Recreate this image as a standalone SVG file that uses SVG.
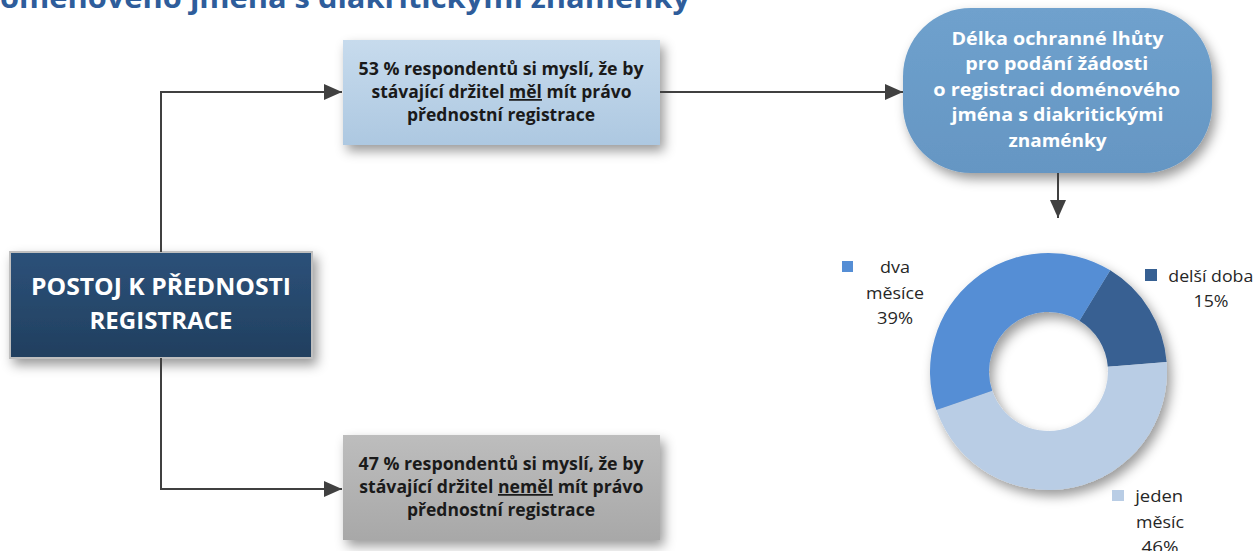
<svg xmlns="http://www.w3.org/2000/svg" width="1256" height="551" viewBox="0 0 1256 551">
<style>
.ttl{font-family:"Open Sans","Liberation Sans",sans-serif;font-weight:700;font-size:28px;fill:#2E5D9B}
.bt{font-family:"Open Sans","Liberation Sans",sans-serif;font-weight:700;font-size:17.5px;fill:#1A1A1A;text-anchor:middle}
.wt{font-family:"Open Sans","Liberation Sans",sans-serif;font-weight:700;fill:#FFFFFF;text-anchor:middle}
.lg{font-family:"Open Sans","Liberation Sans",sans-serif;font-size:17px;fill:#262626;text-anchor:middle}
.ul{text-decoration:underline}
.con{fill:none;stroke:#404040;stroke-width:2}
</style>
<defs>
<filter id="sh" x="-20%" y="-30%" width="150%" height="170%">
<feDropShadow dx="4" dy="6" stdDeviation="6" flood-color="#000" flood-opacity="0.4"/>
</filter>
<linearGradient id="gNavy" x1="0" y1="0" x2="0" y2="1"><stop offset="0" stop-color="#2C5179"/><stop offset="1" stop-color="#213F5F"/></linearGradient>
<linearGradient id="gLight" x1="0" y1="0" x2="0" y2="1"><stop offset="0" stop-color="#C7DBED"/><stop offset="1" stop-color="#ADC8E1"/></linearGradient>
<linearGradient id="gGray" x1="0" y1="0" x2="0" y2="1"><stop offset="0" stop-color="#BDBDBD"/><stop offset="1" stop-color="#A8A8A8"/></linearGradient>
<linearGradient id="gOval" x1="0" y1="0" x2="0" y2="1"><stop offset="0" stop-color="#6FA1CD"/><stop offset="1" stop-color="#6596C3"/></linearGradient>
<marker id="ah" markerUnits="userSpaceOnUse" markerWidth="18" markerHeight="16" refX="18" refY="8" orient="auto">
<path d="M0,0 L18,8 L0,16 Z" fill="#404040"/>
</marker>
</defs>
<rect width="1256" height="551" fill="#FFFFFF"/>

<text class="ttl" x="0" y="8" textLength="690" lengthAdjust="spacingAndGlyphs">oménového jména s diakritickými znaménky</text>

<g id="node-postoj">
<rect x="10" y="252" width="302" height="106" fill="url(#gNavy)" stroke="#BFBFBF" stroke-width="2" filter="url(#sh)"/>
<text class="wt" x="161" y="295" font-size="23" textLength="260" lengthAdjust="spacingAndGlyphs">POSTOJ K PŘEDNOSTI</text>
<text class="wt" x="161" y="329" font-size="23" textLength="143" lengthAdjust="spacingAndGlyphs">REGISTRACE</text>
</g>

<g id="node-mel">
<rect x="343" y="40" width="317" height="105" fill="url(#gLight)" filter="url(#sh)"/>
<text class="bt" x="501" y="75" textLength="285" lengthAdjust="spacingAndGlyphs">53 % respondentů si myslí, že by</text>
<text class="bt" x="501.5" y="98" textLength="260" lengthAdjust="spacingAndGlyphs">stávající držitel <tspan class="ul">měl</tspan> mít právo</text>
<text class="bt" x="501" y="121" textLength="188" lengthAdjust="spacingAndGlyphs">přednostní registrace</text>
</g>

<g id="node-nemel">
<rect x="343" y="435" width="317" height="105" fill="url(#gGray)" filter="url(#sh)"/>
<text class="bt" x="501" y="470" textLength="285" lengthAdjust="spacingAndGlyphs">47 % respondentů si myslí, že by</text>
<text class="bt" x="501.3" y="493" textLength="284" lengthAdjust="spacingAndGlyphs">stávající držitel <tspan class="ul">neměl</tspan> mít právo</text>
<text class="bt" x="501" y="516" textLength="188" lengthAdjust="spacingAndGlyphs">přednostní registrace</text>
</g>

<g id="node-delka">
<rect x="903" y="8" width="309" height="165" rx="68" ry="68" fill="url(#gOval)" filter="url(#sh)"/>
<text class="wt" x="1057.5" y="45" font-size="18.5" textLength="212" lengthAdjust="spacingAndGlyphs">Délka ochranné lhůty</text>
<text class="wt" x="1056.7" y="70" font-size="18.5" textLength="183" lengthAdjust="spacingAndGlyphs">pro podání žádosti</text>
<text class="wt" x="1056.7" y="96" font-size="18.5" textLength="247" lengthAdjust="spacingAndGlyphs">o registraci doménového</text>
<text class="wt" x="1057.5" y="121" font-size="18.5" textLength="212" lengthAdjust="spacingAndGlyphs">jména s diakritickými</text>
<text class="wt" x="1057.5" y="147" font-size="18.5" textLength="98" lengthAdjust="spacingAndGlyphs">znaménky</text>
</g>

<g id="chart">
<g filter="url(#sh)">
<path d="M1110.24,270.35 A118.5,118.5 0 0 1 1166.62,362.00 L1107.81,366.73 A59.5,59.5 0 0 0 1079.50,320.71 Z" fill="#376092"/>
<path d="M1166.62,362.00 A118.5,118.5 0 0 1 936.46,410.08 L992.24,390.87 A59.5,59.5 0 0 0 1107.81,366.73 Z" fill="#B9CDE5"/>
<path d="M936.46,410.08 A118.5,118.5 0 0 1 1110.24,270.35 L1079.50,320.71 A59.5,59.5 0 0 0 992.24,390.87 Z" fill="#558ED5"/>
</g>
<rect x="842" y="261" width="11" height="11" fill="#558ED5"/>
<text class="lg" x="895" y="273" textLength="30" lengthAdjust="spacingAndGlyphs">dva</text>
<text class="lg" x="895" y="298.5" textLength="58" lengthAdjust="spacingAndGlyphs">měsíce</text>
<text class="lg" x="895" y="324" textLength="36" lengthAdjust="spacingAndGlyphs">39%</text>
<rect x="1145" y="269" width="12" height="12" fill="#376092"/>
<text class="lg" x="1210.8" y="282" textLength="85" lengthAdjust="spacingAndGlyphs">delší doba</text>
<text class="lg" x="1211" y="307" textLength="35" lengthAdjust="spacingAndGlyphs">15%</text>
<rect x="1112" y="490" width="12" height="11" fill="#B9CDE5"/>
<text class="lg" x="1159.2" y="502" textLength="48" lengthAdjust="spacingAndGlyphs">jeden</text>
<text class="lg" x="1160" y="527.5" textLength="48" lengthAdjust="spacingAndGlyphs">měsíc</text>
<text class="lg" x="1160" y="553" textLength="37" lengthAdjust="spacingAndGlyphs">46%</text>
</g>

<g id="connectors">
<path class="con" d="M161,252 V92 H342" marker-end="url(#ah)"/>
<path class="con" d="M161,358 V489 H342" marker-end="url(#ah)"/>
<path class="con" d="M660,92 H903" marker-end="url(#ah)"/>
<path class="con" d="M1058,173 V218" marker-end="url(#ah)"/>
</g>
</svg>
